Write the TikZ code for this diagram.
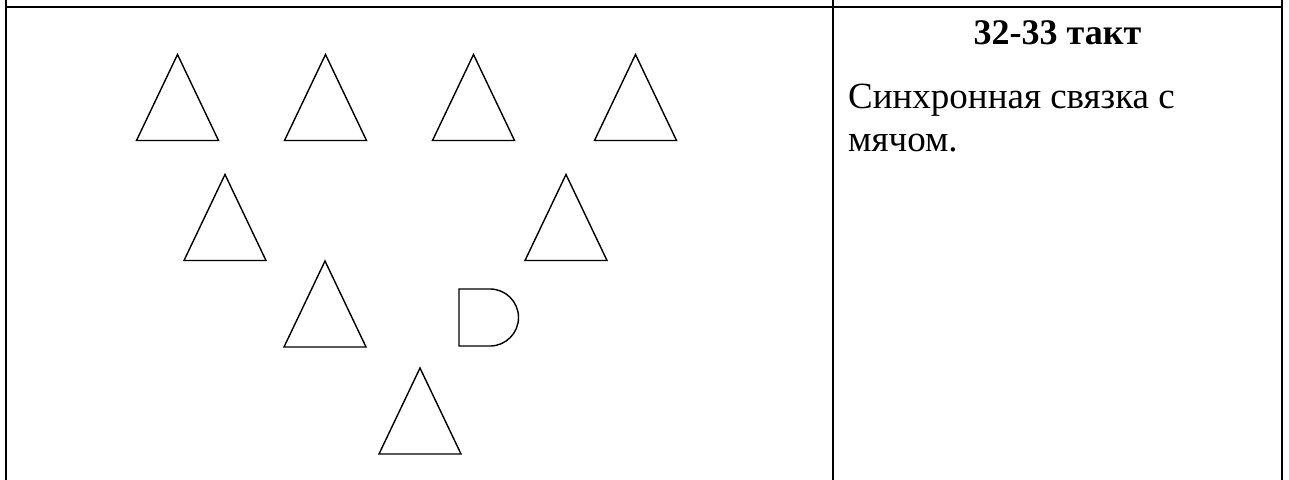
\documentclass[tikz,border=0pt]{standalone}
\usepackage{fontspec}
\setmainfont{Liberation Serif}
\usetikzlibrary{positioning}

\begin{document}
\begin{tikzpicture}[x=1pt, y=-1pt,
    grid/.style={line width=2pt, line cap=rect},
    player/.style={line width=1.4pt, line join=miter}]
      \useasboundingbox (0,0) rectangle (1289,479);

      % table lines
      \draw[grid] (6,6.5) -- (1282,6.5);
      \draw[grid] (6,-2) -- (6,482);
      \draw[grid] (833,-2) -- (833,482);
      \draw[grid] (1282,-2) -- (1282,482);

      % formation: triangles, given by their tips
      \foreach \tx/\ty in {177.5/54.5, 325.5/54.5, 473.5/54.5, 635.5/54.5,
                           225/174.5, 566/174.5, 325/261, 420/368}
        \draw[player] (\tx,\ty) -- ++(41,86) -- ++(-82,0) -- cycle;

      % the ball
      \draw[player] (459,289) -- (490,289)
        arc[start angle=-90, end angle=90, radius=28.5] -- (459,346) -- cycle;

      % text column
      \node[anchor=base, inner sep=0pt, font=\fontsize{36}{43.5}\selectfont\bfseries]
        (title) at (1057.5,44.3) {32-33 такт};
      \node[anchor=base west, inner sep=0pt, font=\fontsize{37}{43.5}\selectfont]
        (desc) at (848,108) {Синхронная связка с};
      \node[anchor=base west, inner sep=0pt, font=\fontsize{37}{43.5}\selectfont]
        (desc2) at (848,151.7) {мячом.};
\end{tikzpicture}
\end{document}
